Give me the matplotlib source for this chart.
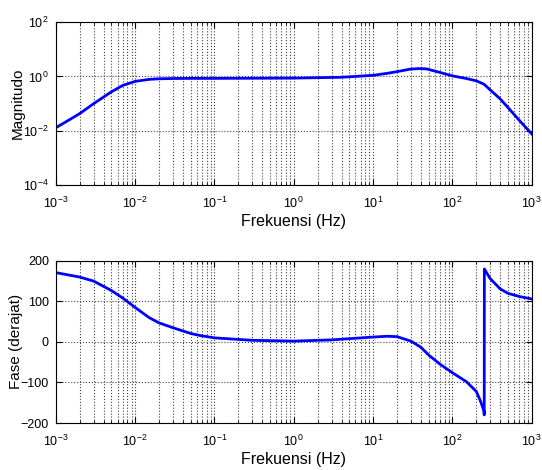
import matplotlib
matplotlib.use("Agg")
import matplotlib.pyplot as plt
from matplotlib.ticker import LogLocator, NullFormatter, NullLocator

plt.rcParams['font.family'] = ['Liberation Sans', 'DejaVu Sans']
plt.rcParams['mathtext.fontset'] = 'custom'
plt.rcParams['mathtext.rm'] = 'Liberation Sans'
plt.rcParams['mathtext.it'] = 'Liberation Sans'

# magnitude response
freq_mag = [1e-3, 1.5e-3, 2e-3, 3e-3, 4e-3, 5e-3, 7e-3, 1e-2, 1.5e-2, 2e-2, 3e-2,
            5e-2, 0.1, 0.3, 1, 3.8, 5, 10, 15, 20, 29, 38, 47, 70, 100, 150, 200, 250,
            300, 400, 500, 700, 1000]
mag = [0.013, 0.026, 0.043, 0.10, 0.175, 0.27, 0.47, 0.66, 0.78, 0.82, 0.84,
       0.85, 0.85, 0.86, 0.87, 0.93, 0.97, 1.1, 1.3, 1.5, 1.85, 1.95, 1.9, 1.4, 1.05, 0.84, 0.69, 0.52,
       0.32, 0.15, 0.073, 0.024, 0.0077]

# phase response
freq_ph = [1e-3, 2e-3, 3e-3, 5e-3, 7e-3, 1e-2, 1.5e-2, 2e-2, 3e-2, 5e-2, 0.065, 0.1, 0.3, 1,
           3, 5, 10, 15, 20, 30, 40, 50, 70, 100, 150, 200, 225, 250, 252, 253,
           300, 400, 500, 700, 1000]
phase = [171, 160, 150, 127, 108, 85, 60, 47, 35, 21, 16, 10, 4, 2,
         5, 8, 12, 14, 13, 2, -13, -32, -55, -76, -98, -122, -145, -170, -180, 180,
         156, 131, 120, 112, 106]

fig = plt.figure(figsize=(5.42, 4.70), dpi=100)
ax1 = fig.add_axes([0.103, 0.606, 0.878, 0.347])
ax2 = fig.add_axes([0.103, 0.100, 0.878, 0.345])

ax1.loglog(freq_mag, mag, color='#0000ff', lw=2)
ax1.set_ylim(1e-4, 1e2)
ax1.set_yticks([1e-4, 1e-2, 1e0, 1e2])
ax1.yaxis.set_minor_locator(NullLocator())
ax1.set_ylabel('Magnitudo', fontsize=11)
ax1.yaxis.set_label_coords(-0.065, 0.5)

ax2.semilogx(freq_ph, phase, color='#0000ff', lw=2)
ax2.set_ylim(-200, 200)
ax2.set_yticks([-200, -100, 0, 100, 200])
ax2.set_ylabel('Fase (derajat)', fontsize=11)
ax2.yaxis.set_label_coords(-0.07, 0.5)

for ax in (ax1, ax2):
    ax.set_xlim(1e-3, 1e3)
    ax.set_xticks([10.0 ** k for k in range(-3, 4)])
    ax.xaxis.set_minor_locator(LogLocator(base=10, subs=range(2, 10), numticks=20))
    ax.xaxis.set_minor_formatter(NullFormatter())
    ax.set_xlabel('Frekuensi (Hz)', fontsize=11.5, labelpad=2)
    ax.grid(True, which='major', ls=':', color='#444444', lw=0.8)
    ax.grid(True, which='minor', axis='x', ls=':', color='#444444', lw=0.8)
    ax.tick_params(which='both', direction='in', top=True, right=True, labelsize=9)
    ax.tick_params(which='major', length=4)
    ax.tick_params(which='minor', length=2)
    ax.tick_params(axis='x', which='major', pad=8)
    ax.tick_params(axis='y', which='major', pad=5)
    for s in ax.spines.values():
        s.set_linewidth(0.8)

fig.savefig('out.png', dpi=100)
